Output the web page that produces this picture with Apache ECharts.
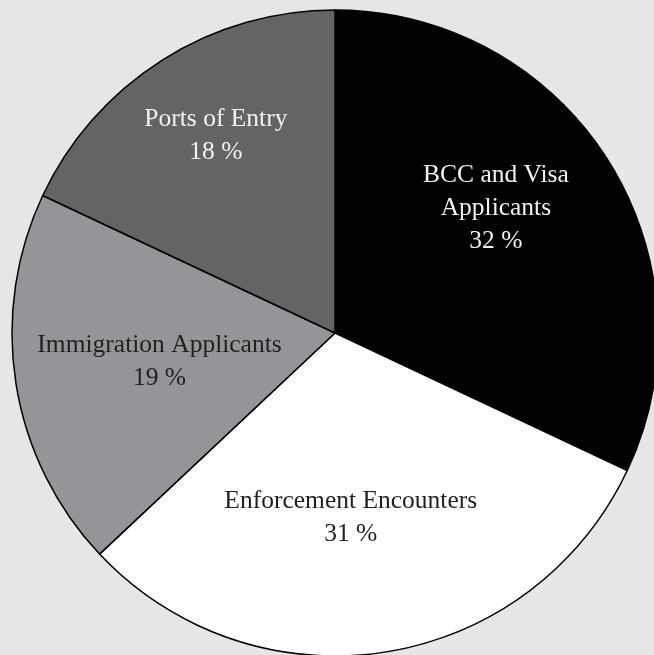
<!DOCTYPE html>
<html>
<head>
<meta charset="utf-8">
<script src="https://cdn.jsdelivr.net/npm/echarts@6/dist/echarts.min.js"></script>
<style>
html,body{margin:0;padding:0;background:#e5e7e6;}
#chart{width:654px;height:655px;}
</style>
</head>
<body>
<div id="chart"></div>
<script>
const categories = ['BCC and Visa\nApplicants', 'Enforcement Encounters', 'Immigration Applicants', 'Ports of Entry'];
const values = [32, 31, 19, 18];
const sliceColors = ['#000000', '#ffffff', '#949599', '#636466'];
const labelColors = ['#f2f2f2', '#231f20', '#231f20', '#f2f2f2'];
const labelShift = [[22, -37], [-10, 22], [-13, 3], [-31, -58]];

const chart = echarts.init(document.getElementById('chart'), null, {renderer: 'canvas'});
chart.setOption({
  backgroundColor: '#e5e7e6',
  animation: false,
  series: [{
    type: 'pie',
    center: [335, 333],
    radius: 323,
    startAngle: 90,
    clockwise: true,
    avoidLabelOverlap: false,
    emphasis: {disabled: true},
    itemStyle: {borderColor: '#000', borderWidth: 1.5},
    label: {
      show: true,
      position: 'inside',
      formatter: p => p.name + '\n' + p.value + ' %',
      fontFamily: '"Liberation Serif", "DejaVu Serif", serif',
      fontSize: 25.5,
      lineHeight: 33,
      align: 'center'
    },
    labelLine: {show: false},
    labelLayout: function (p) {
      const s = labelShift[p.dataIndex];
      return {dx: s[0], dy: s[1]};
    },
    data: categories.map((c, i) => ({
      name: c,
      value: values[i],
      itemStyle: {color: sliceColors[i]},
      label: {color: labelColors[i]}
    }))
  }]
});
</script>
</body>
</html>
